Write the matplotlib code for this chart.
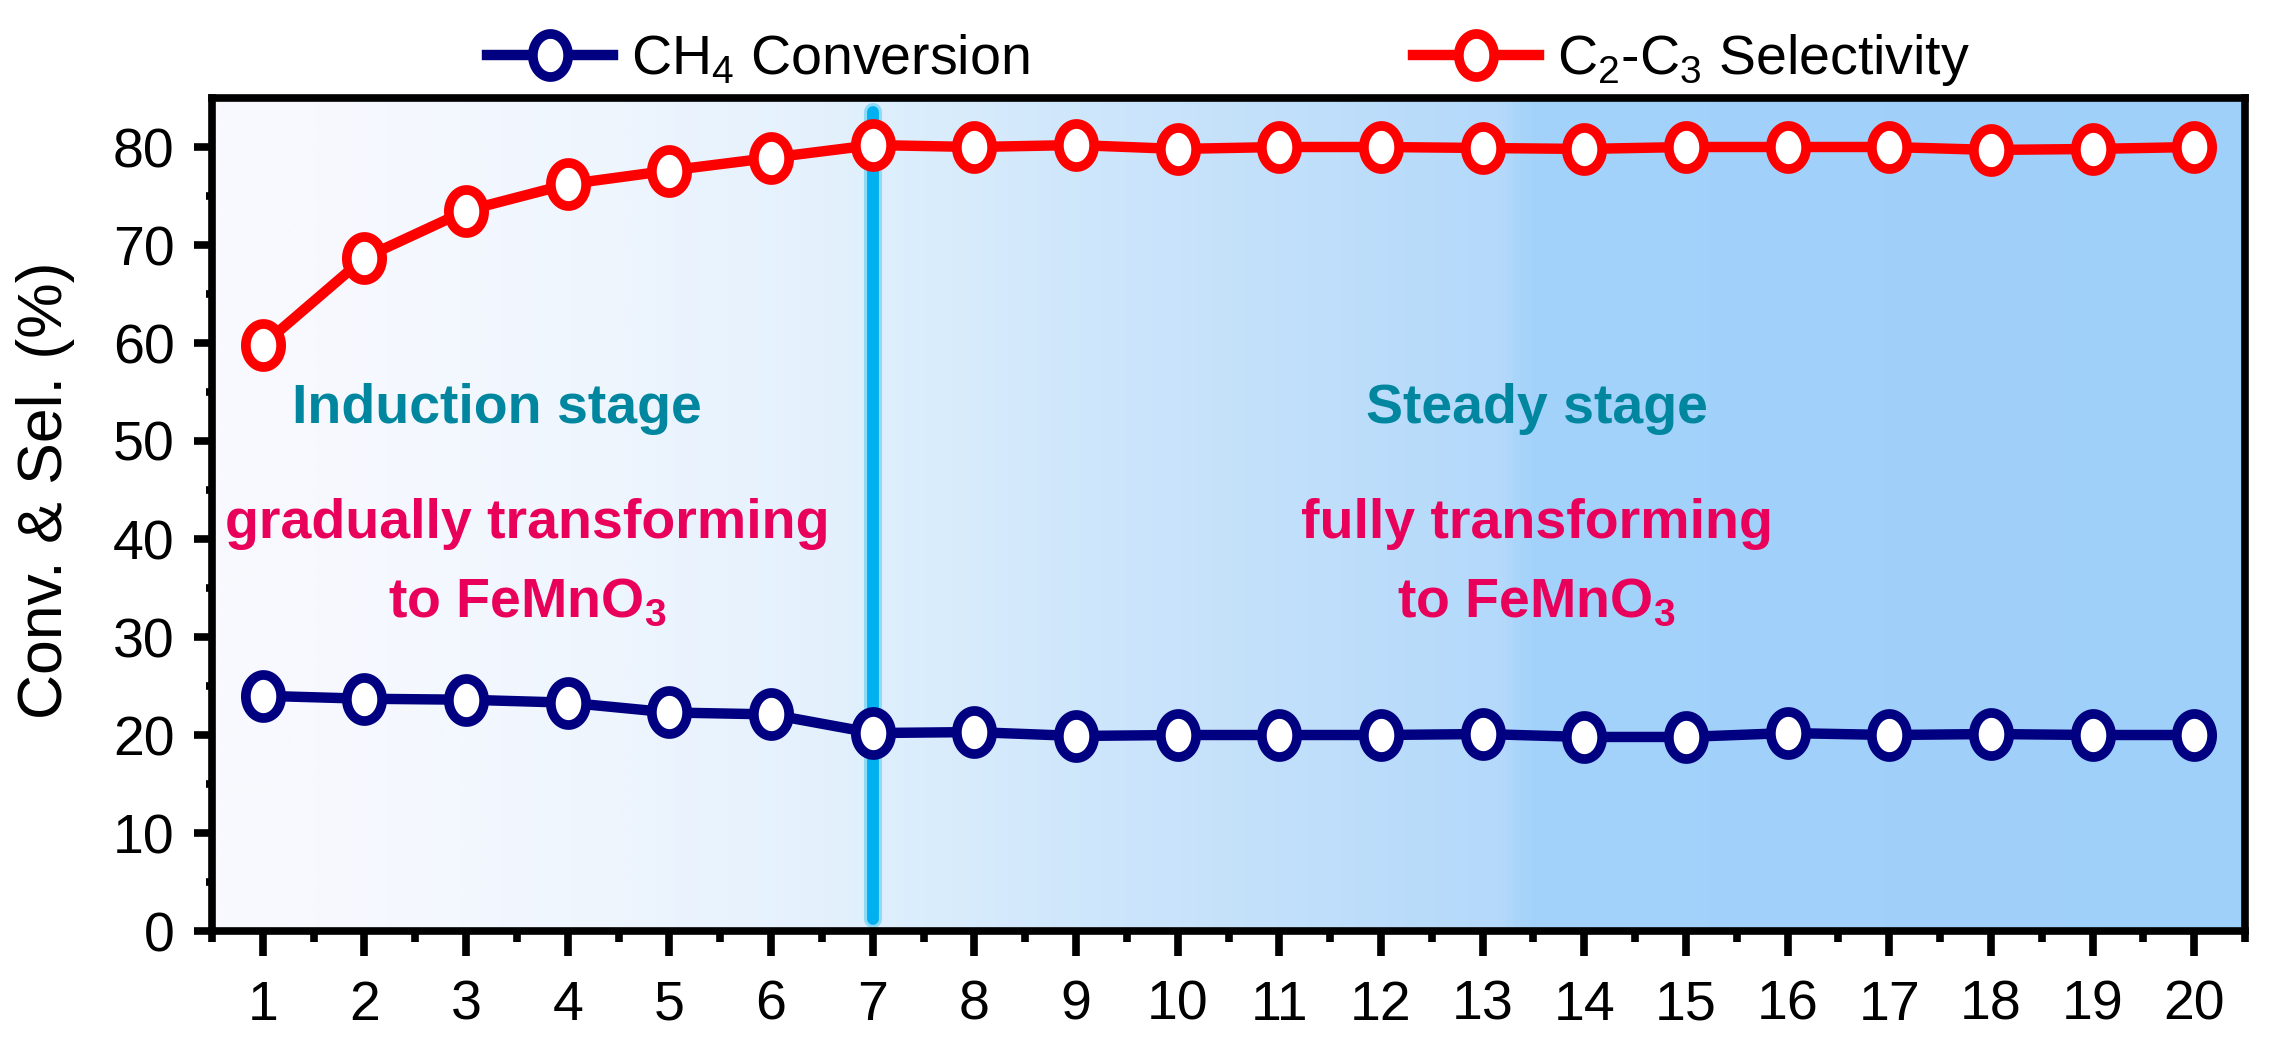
import numpy as np
import matplotlib
matplotlib.use("Agg")
import matplotlib.pyplot as plt
from matplotlib import font_manager
from matplotlib.path import Path
from matplotlib.colors import LinearSegmentedColormap, to_rgb

# ---------------- data ----------------
cycles = [1, 2, 3, 4, 5, 6, 7, 8, 9, 10, 11, 12, 13, 14, 15, 16, 17, 18, 19, 20]
conversion = [24.0, 23.7, 23.6, 23.3, 22.3, 22.1, 20.2, 20.3, 19.9, 20.0,
              20.0, 20.0, 20.1, 19.8, 19.8, 20.2, 20.0, 20.1, 20.0, 20.0]
selectivity = [59.8, 68.7, 73.5, 76.2, 77.6, 78.9, 80.2, 80.0, 80.2, 79.8,
               80.0, 80.0, 79.9, 79.8, 80.0, 80.0, 80.0, 79.7, 79.8, 80.0]
stage_boundary = 7
y_ticks = [0, 10, 20, 30, 40, 50, 60, 70, 80]
legend_labels = [r"CH$_\mathregular{4}$ Conversion",
                 r"C$_\mathregular{2}$-C$_\mathregular{3}$ Selectivity"]
ylabel = "Conv. & Sel. (%)"
left_texts = ["Induction stage", "gradually transforming", r"to FeMnO$_\mathbf{3}$"]
right_texts = ["Steady stage", "fully transforming", r"to FeMnO$_\mathbf{3}$"]

# background gradient stops (x position, colour)
grad_x = [0.5, 1.5, 4.0, 6.5, 7.5, 10.0, 13.2, 13.5, 20.5]
grad_c = ["#F9F9FE", "#F7F9FE", "#F0F6FE", "#E4F1FD", "#DAEDFC",
          "#C8E3FB", "#B4D9FA", "#A3D2FB", "#9FD0FA"]

# ---------------- fonts ----------------
names = {f.name for f in font_manager.fontManager.ttflist}
NARROW = "Liberation Sans Narrow" in names
if NARROW:
    hfont = ["Liberation Sans Narrow", "DejaVu Sans"]
    tick_fs, leg_fs, ann_fs = 45, 45, 45
else:
    hfont = ["Liberation Sans", "DejaVu Sans"]
    tick_fs, leg_fs, ann_fs = 40, 40, 40
plt.rcParams["font.family"] = hfont
plt.rcParams["mathtext.fontset"] = "custom"
plt.rcParams["mathtext.rm"] = hfont[0]
plt.rcParams["mathtext.bf"] = hfont[0] + ":bold"

W, H = 2270, 1056
fig = plt.figure(figsize=(W / 100, H / 100), dpi=100)
ax = fig.add_axes([212 / W, 1 - 931 / H, (2245 - 212) / W, (931 - 98) / H])

XMIN, XMAX, YMIN, YMAX = 0.5, 20.5, 0, 85

# gradient background
cmap = LinearSegmentedColormap.from_list(
    "bg", [((x - XMIN) / (XMAX - XMIN), to_rgb(c)) for x, c in zip(grad_x, grad_c)])
grad = np.linspace(0, 1, 800)[None, :]
ax.imshow(grad, cmap=cmap, extent=(XMIN, XMAX, YMIN, YMAX), aspect="auto",
          zorder=0, interpolation="bilinear")

# stage boundary
ax.plot([stage_boundary, stage_boundary], [1.2, 83.6], color="#8FDAF7",
        lw=13, solid_capstyle="round", zorder=1)
ax.plot([stage_boundary, stage_boundary], [1.2, 83.6], color="#00B0F0",
        lw=8.5, solid_capstyle="round", zorder=1.1)

# ellipse marker (slightly taller than wide)
t = np.linspace(0, 2 * np.pi, 61)
ell = Path(np.column_stack([0.82 * np.cos(t), np.sin(t)]), closed=True)

ax.plot(cycles, conversion, color="#000080", lw=7.5, marker=ell, ms=31,
        mfc="white", mec="#000080", mew=7, zorder=3, label=legend_labels[0])
ax.plot(cycles, selectivity, color="#FF0000", lw=7.5, marker=ell, ms=31,
        mfc="white", mec="#FF0000", mew=7, zorder=3, label=legend_labels[1])

ax.set_xlim(XMIN, XMAX)
ax.set_ylim(YMIN, YMAX)
ax.set_xticks(cycles)
ax.set_xticks(np.arange(0.5, 21, 1.0), minor=True)
ax.set_yticks(y_ticks)
ax.set_yticks(np.arange(5, 85, 10), minor=True)

for s in ax.spines.values():
    s.set_linewidth(5.5)
ax.tick_params(axis="x", which="major", length=18, width=5.5, pad=17,
               labelsize=tick_fs, direction="out")
ax.tick_params(axis="x", which="minor", length=8, width=5.5, direction="out")
ax.tick_params(axis="y", which="major", length=13, width=5.5, pad=14,
               labelsize=tick_fs, direction="out")
ax.tick_params(axis="y", which="minor", length=4, width=5.5, direction="out")

fig.text(46 / W, 1 - 490 / H, ylabel, rotation=90, ha="center", va="center",
         fontsize=45, family=["Liberation Sans", "DejaVu Sans"])

teal = "#00879F"
crim = "#E8005A"
ax.text(3.3, 53.3, left_texts[0], color=teal, fontsize=ann_fs, weight="bold",
        ha="center", va="center", zorder=4)
ax.text(3.6, 41.5, left_texts[1], color=crim, fontsize=ann_fs, weight="bold",
        ha="center", va="center", zorder=4)
ax.text(3.6, 33.5, left_texts[2], color=crim, fontsize=ann_fs, weight="bold",
        ha="center", va="center", zorder=4)
ax.text(13.53, 53.3, right_texts[0], color=teal, fontsize=ann_fs, weight="bold",
        ha="center", va="center", zorder=4)
ax.text(13.53, 41.5, right_texts[1], color=crim, fontsize=ann_fs, weight="bold",
        ha="center", va="center", zorder=4)
ax.text(13.53, 33.5, right_texts[2], color=crim, fontsize=ann_fs, weight="bold",
        ha="center", va="center", zorder=4)

ax.legend(loc="lower center", bbox_to_anchor=(0.5, 1.012), ncol=2, frameon=False,
          fontsize=leg_fs, handlelength=2.27, handletextpad=0.32,
          columnspacing=6.9, borderaxespad=0.0, borderpad=0.0)

fig.savefig("out.png", dpi=100)
